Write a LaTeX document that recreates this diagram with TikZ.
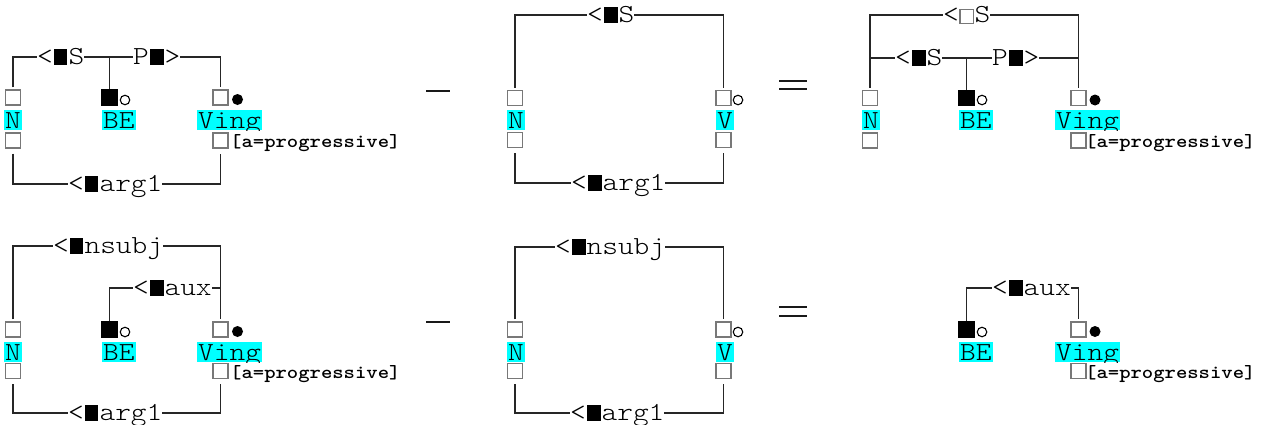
\documentclass[tikz,border=0pt]{standalone}
\usepackage{fontspec}
\newfontfamily\cour{lmmonolt10-regular.otf}[FakeStretch=1.15]
\newfontfamily\courb{lmmonolt10-bold.otf}[FakeStretch=1.15]
\definecolor{hl}{RGB}{0,255,255}
\definecolor{boxgray}{RGB}{120,120,120}
\newcommand\blk{\makebox[15.7pt]{\rule{13.5pt}{15.5pt}}}
\newcommand\wsq{\makebox[15.7pt]{\color{boxgray}\setlength\fboxsep{0pt}\setlength\fboxrule{1.3pt}\fbox{\rule{0pt}{12.4pt}\rule{12.4pt}{0pt}}}}
\tikzset{
 conn/.style={line width=1.8pt, draw=black!85},
 sq/.style={rectangle, draw=boxgray, line width=1.4pt, minimum size=15pt, inner sep=0pt},
 bsq/.style={sq, fill=black, draw=black},
 lab/.style={anchor=base west, inner sep=0pt, font=\cour\fontsize{26}{26}\selectfont, fill=white},
 word/.style={anchor=base west, fill=hl, inner xsep=1pt, inner ysep=0pt, text height=18pt, text depth=2pt, font=\cour\fontsize{26}{26}\selectfont},
 feat/.style={anchor=base west, inner sep=0pt, font=\courb\fontsize{18.8}{18.8}\selectfont},
 hole/.style={circle, draw=black, line width=1.1pt, minimum size=9.5pt, inner sep=0pt},
 dotmark/.style={circle, fill=black, minimum size=11pt, inner sep=0pt},
 op/.style={line width=2.8pt, draw=black!90},
}
\begin{document}
\begin{tikzpicture}[x=1pt,y=-1pt]
\useasboundingbox (0,0) rectangle (1265,424);
% ---------- panel 1 ----------
\coordinate (p1t) at (0,57);
\coordinate (p1b) at (0,184);
\node[sq] (p1n) at (13,97.5) {};
\node[bsq] (p1be) at (109.5,97.5) {};
\node[sq] (p1v) at (220.5,97.5) {};
\node[hole] (p1beh) at (125,100) {};
\node[dotmark] (p1vd) at (237.5,99.5) {};
\node[word] (p1nw) at (4,128) {N};
\node[word] (p1bew) at (102,128) {BE};
\begin{scope}\clip (197,110) rectangle (263,130);
\node[word] (p1vw) at (197,128) {Ving};
\end{scope}
\node[sq] (p1nb) at (13,140.5) {};
\node[sq] (p1vb) at (220.5,140.5) {};
\node[feat] (p1f) at (230,147.5) {[a=progressive]};
\draw[conn] ([yshift=2pt]p1n.north) -- (p1n.north |- p1t) -- (p1v.north |- p1t) -- ([yshift=2pt]p1v.north);
\draw[conn] (p1be.north) -- (p1be.north |- p1t);
\draw[conn] ([yshift=-5pt]p1nb.south) -- (p1nb.south |- p1b) -- (p1vb.south |- p1b) -- ([yshift=-5pt]p1vb.south);
\node[lab] (p1l1) at (37,64.5) {<\blk S};
\node[lab] (p1l2) at (133,64.5) {P\blk>};
\node[lab] (p1l3) at (68,191.5) {<\blk arg1};
% ---------- operators top ----------
\draw[op] (426,91) -- (450,91);
\draw[op] (779,81) -- (807,81);
\draw[op] (779,89) -- (807,89);
% ---------- panel 2 ----------
\coordinate (p2t) at (0,15);
\coordinate (p2b) at (0,183);
\node[sq] (p2n) at (515,98) {};
\node[sq] (p2v) at (723.5,98) {};
\node[hole] (p2vh) at (738,100) {};
\node[word] (p2nw) at (507,128) {N};
\node[word] (p2vw) at (716,128) {V};
\node[sq] (p2nb) at (515,140) {};
\node[sq] (p2vb) at (723.5,140) {};
\draw[conn] ([yshift=2pt]p2n.north) -- (p2n.north |- p2t) -- (p2v.north |- p2t) -- ([yshift=2pt]p2v.north);
\draw[conn] ([yshift=-5pt]p2nb.south) -- (p2nb.south |- p2b) -- (p2vb.south |- p2b) -- ([yshift=-5pt]p2vb.south);
\node[lab] (p2l1) at (587,22.5) {<\blk S};
\node[lab] (p2l2) at (571,190.5) {<\blk arg1};
% ---------- panel 3 ----------
\coordinate (p3t) at (0,15);
\coordinate (p3i) at (0,58);
\node[sq] (p3n) at (870,98) {};
\node[bsq] (p3be) at (966.5,98) {};
\node[sq] (p3v) at (1078.5,98) {};
\node[hole] (p3beh) at (982,100) {};
\node[dotmark] (p3vd) at (1095,100) {};
\node[word] (p3nw) at (862,128) {N};
\node[word] (p3bew) at (959,128) {BE};
\begin{scope}\clip (1055,110) rectangle (1121,130);
\node[word] (p3vw) at (1055,128) {Ving};
\end{scope}
\node[sq] (p3nb) at (870,140.5) {};
\node[sq] (p3vb) at (1078.5,140.5) {};
\node[feat] (p3f) at (1085,147.5) {[a=progressive]};
\draw[conn] ([yshift=2pt]p3n.north) -- (p3n.north |- p3t) -- (p3v.north |- p3t) -- ([yshift=2pt]p3v.north);
\draw[conn] (p3n.north |- p3i) -- (p3v.north |- p3i);
\draw[conn] (p3be.north) -- (p3be.north |- p3i);
\node[lab] (p3l1) at (943,22.5) {<\wsq S};
\node[lab] (p3l2) at (895,65.5) {<\blk S};
\node[lab] (p3l3) at (992,65.5) {P\blk>};
% ---------- panel 4 ----------
\coordinate (p4t) at (0,246);
\coordinate (p4a) at (0,288);
\coordinate (p4b) at (0,413);
\node[sq] (p4n) at (13,329.5) {};
\node[bsq] (p4be) at (109.5,329.5) {};
\node[sq] (p4v) at (220.5,329.5) {};
\node[hole] (p4beh) at (125,332) {};
\node[dotmark] (p4vd) at (237.5,331.5) {};
\node[word] (p4nw) at (4,360) {N};
\node[word] (p4bew) at (102,360) {BE};
\begin{scope}\clip (197,342) rectangle (263,362);
\node[word] (p4vw) at (197,360) {Ving};
\end{scope}
\node[sq] (p4nb) at (13,371) {};
\node[sq] (p4vb) at (220.5,371) {};
\node[feat] (p4f) at (230,378.5) {[a=progressive]};
\draw[conn] ([yshift=2pt]p4n.north) -- (p4n.north |- p4t) -- (p4v.north |- p4t) -- ([yshift=2pt]p4v.north);
\draw[conn] (p4be.north) -- (p4be.north |- p4a) -- (p4v.north |- p4a);
\draw[conn] ([yshift=-5pt]p4nb.south) -- (p4nb.south |- p4b) -- (p4vb.south |- p4b) -- ([yshift=-5pt]p4vb.south);
\node[lab] (p4l1) at (53,253.5) {<\blk nsubj};
\node[lab] (p4l2) at (133,295.5) {<\blk aux};
\node[lab] (p4l3) at (68,420.5) {<\blk arg1};
% ---------- operators bottom ----------
\draw[op] (426,322) -- (450,322);
\draw[op] (779,307) -- (807,307);
\draw[op] (779,316) -- (807,316);
% ---------- panel 5 ----------
\coordinate (p5t) at (0,247);
\coordinate (p5b) at (0,413);
\node[sq] (p5n) at (515,329.5) {};
\node[sq] (p5v) at (723.5,329.5) {};
\node[hole] (p5vh) at (738,332) {};
\node[word] (p5nw) at (507,360) {N};
\node[word] (p5vw) at (716,360) {V};
\node[sq] (p5nb) at (515,371) {};
\node[sq] (p5vb) at (723.5,371) {};
\draw[conn] ([yshift=2pt]p5n.north) -- (p5n.north |- p5t) -- (p5v.north |- p5t) -- ([yshift=2pt]p5v.north);
\draw[conn] ([yshift=-5pt]p5nb.south) -- (p5nb.south |- p5b) -- (p5vb.south |- p5b) -- ([yshift=-5pt]p5vb.south);
\node[lab] (p5l1) at (555,254.5) {<\blk nsubj};
\node[lab] (p5l2) at (570,420.5) {<\blk arg1};
% ---------- panel 6 ----------
\coordinate (p6a) at (0,288);
\node[bsq] (p6be) at (966.5,329.5) {};
\node[sq] (p6v) at (1078.5,329.5) {};
\node[hole] (p6beh) at (982,332) {};
\node[dotmark] (p6vd) at (1095,331.5) {};
\node[word] (p6bew) at (959,360) {BE};
\begin{scope}\clip (1055,342) rectangle (1121,362);
\node[word] (p6vw) at (1055,360) {Ving};
\end{scope}
\node[sq] (p6vb) at (1078.5,371) {};
\node[feat] (p6f) at (1085,378.5) {[a=progressive]};
\draw[conn] (p6be.north) -- (p6be.north |- p6a) -- (p6v.north |- p6a) -- ([yshift=2pt]p6v.north);
\node[lab] (p6l1) at (992,295.5) {<\blk aux};
\end{tikzpicture}
\end{document}
